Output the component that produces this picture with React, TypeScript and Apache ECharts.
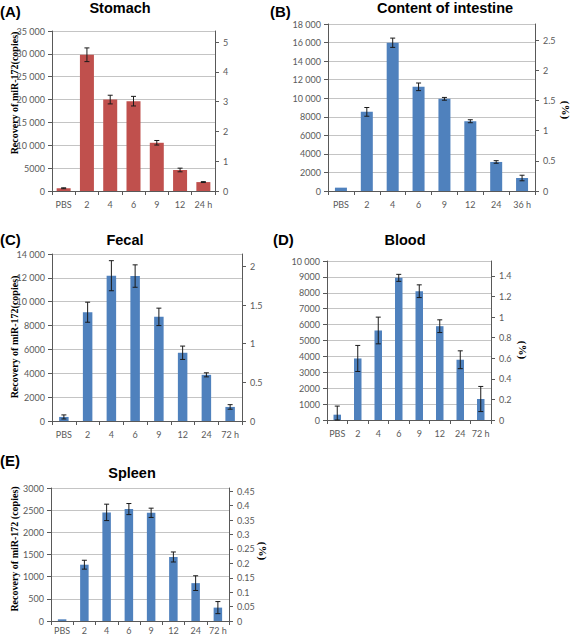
import React, { useEffect, useRef } from "react";
import * as echarts from "echarts";

// ---------- data ----------
const categoriesA = ["PBS", "2", "4", "6", "9", "12", "24 h"];
const valuesA = [600, 29800, 20000, 19650, 10550, 4600, 1950];
const errorsA = [100, 1500, 950, 1050, 500, 400, 100];

const categoriesB = ["PBS", "2", "4", "6", "9", "12", "24", "36 h"];
const valuesB = [360, 8530, 15980, 11230, 9935, 7520, 3130, 1400];
const errorsB = [0, 470, 500, 410, 150, 160, 140, 300];

const categoriesC = ["PBS", "2", "4", "6", "9", "12", "24", "72 h"];
const valuesC = [340, 9120, 12180, 12150, 8730, 5720, 3870, 1180];
const errorsC = [170, 840, 1260, 940, 730, 560, 170, 190];

const categoriesD = ["PBS", "2", "4", "6", "9", "12", "24", "72 h"];
const valuesD = [335, 3870, 5630, 8940, 8100, 5900, 3790, 1320];
const errorsD = [540, 820, 840, 220, 400, 400, 560, 790];

const categoriesE = ["PBS", "2", "4", "6", "9", "12", "24", "72 h"];
const valuesE = [38, 1270, 2450, 2525, 2440, 1444, 854, 302];
const errorsE = [0, 100, 185, 125, 105, 113, 166, 136];

// left axis (copies) ranges
const leftMax = [35000, 18000, 14000, 10000, 3000];
const leftInterval = [5000, 2000, 2000, 1000, 500];
// right axis (%) ranges
const rightMax = [5.37, 2.765, 2.16, 1.545, 0.4616];
const rightInterval = [1, 0.5, 0.5, 0.2, 0.05];

const titles = ["Stomach", "Content of intestine", "Fecal", "Blood", "Spleen"];
const letters = ["(A)", "(B)", "(C)", "(D)", "(E)"];

// ---------- styling / layout ----------
const RED = "#C0504D";
const BLUE = "#4F81BD";
const AXIS = "#595959";
const GRIDLINE = "#c4c4c4";
const LABEL = "#5a5a5a";
const LABEL_FONT = "Lato";

const grids = [
  { left: 52, top: 31, width: 163, height: 160 },
  { left: 328, top: 24, width: 207, height: 167 },
  { left: 52, top: 254, width: 190, height: 167 },
  { left: 327, top: 261, width: 164, height: 159 },
  { left: 51, top: 488, width: 178, height: 133 },
];
const barWidths = [14, 12, 9.5, 7.5, 8.5];
const xLabelMargins = [9, 9, 9, 9, 5];
const colors = [RED, BLUE, BLUE, BLUE, BLUE];

const panels = [
  { cats: categoriesA, vals: valuesA, errs: errorsA },
  { cats: categoriesB, vals: valuesB, errs: errorsB },
  { cats: categoriesC, vals: valuesC, errs: errorsC },
  { cats: categoriesD, vals: valuesD, errs: errorsD },
  { cats: categoriesE, vals: valuesE, errs: errorsE },
];

function fmtLeft(v: number): string {
  if (v >= 10000) {
    const s = String(Math.round(v));
    return s.slice(0, s.length - 3) + " " + s.slice(s.length - 3);
  }
  return String(Math.round(v));
}

function buildOption() {
  const xAxis: any[] = [];
  const yAxis: any[] = [];
  const series: any[] = [];
  const grid: any[] = [];
  const graphic: any[] = [];

  panels.forEach((p, i) => {
    grid.push({ ...grids[i], containLabel: false, outerBoundsMode: "none" });
    xAxis.push({
      type: "category",
      gridIndex: i,
      data: p.cats,
      axisLine: { show: true, lineStyle: { color: AXIS, width: 1 } },
      axisTick: { show: true, length: 4, lineStyle: { color: AXIS } },
      axisLabel: {
        color: LABEL,
        fontFamily: LABEL_FONT,
        fontSize: 9,
        margin: xLabelMargins[i],
        interval: 0,
      },
      splitLine: { show: false },
    });
    yAxis.push({
      type: "value",
      gridIndex: i,
      min: 0,
      max: leftMax[i],
      interval: leftInterval[i],
      axisLine: { show: true, lineStyle: { color: AXIS, width: 1 } },
      axisTick: { show: true, length: 4, lineStyle: { color: AXIS } },
      axisLabel: {
        color: LABEL,
        fontFamily: LABEL_FONT,
        fontSize: 9,
        margin: 7,
        formatter: (v: number) => fmtLeft(v),
      },
      splitLine: { show: true, lineStyle: { color: GRIDLINE, width: 1 } },
    });
    const ri = rightInterval[i];
    yAxis.push({
      type: "value",
      gridIndex: i,
      position: "right",
      min: 0,
      max: rightMax[i],
      interval: ri,
      axisLine: { show: true, onZero: false, lineStyle: { color: AXIS, width: 1 } },
      axisTick: { show: true, length: 4, lineStyle: { color: AXIS } },
      axisLabel: {
        color: LABEL,
        fontFamily: LABEL_FONT,
        fontSize: 9,
        margin: 8,
        showMaxLabel: false,
        formatter: (v: number) => {
          const k = v / ri;
          if (Math.abs(k - Math.round(k)) > 1e-6) return "";
          return String(+v.toFixed(4));
        },
      },
      splitLine: { show: false },
    });
    series.push({
      type: "bar",
      xAxisIndex: i,
      yAxisIndex: 2 * i,
      data: p.vals,
      barWidth: barWidths[i],
      itemStyle: { color: colors[i] },
      z: 2,
    });
    series.push({
      type: "custom",
      xAxisIndex: i,
      yAxisIndex: 2 * i,
      z: 3,
      encode: { x: 0, y: 1 },
      data: p.vals.map((v, j) => [j, v, p.errs[j]]),
      renderItem: (params: any, api: any) => {
        const x = api.value(0);
        const v = api.value(1);
        const e = api.value(2);
        if (!e) return null;
        const top = api.coord([x, v + e]);
        const bot = api.coord([x, Math.max(v - e, 0)]);
        const cx = top[0];
        const w = 2.5;
        const st = { stroke: "#1a1a1a", lineWidth: 1 };
        return {
          type: "group",
          children: [
            { type: "line", shape: { x1: cx, y1: top[1], x2: cx, y2: bot[1] }, style: st },
            { type: "line", shape: { x1: cx - w, y1: top[1], x2: cx + w, y2: top[1] }, style: st },
            { type: "line", shape: { x1: cx - w, y1: bot[1], x2: cx + w, y2: bot[1] }, style: st },
          ],
        };
      },
    });
  });

  // panel letters
  const letterPos = [
    [0, 11],
    [270, 11],
    [0, 239],
    [273, 239],
    [0, 460],
  ];
  letters.forEach((t, i) => {
    graphic.push({
      type: "text",
      x: letterPos[i][0],
      y: letterPos[i][1],
      style: {
        text: t,
        fill: "#000",
        font: "bold 15px 'Liberation Sans', Arial, sans-serif",
        align: "left",
        verticalAlign: "middle",
      },
    });
  });

  // titles
  const titlePos = [
    [120, 8],
    [445, 8],
    [125, 240],
    [405, 240],
    [132, 473],
  ];
  titles.forEach((t, i) => {
    graphic.push({
      type: "text",
      x: titlePos[i][0],
      y: titlePos[i][1],
      style: {
        text: t,
        fill: "#000",
        font: "bold 14.5px 'Liberation Sans', Arial, sans-serif",
        align: "center",
        verticalAlign: "middle",
      },
    });
  });

  // left axis titles
  const yTitles = [
    { text: "Recovery of miR-172(copies)", x: 14, y: 93 },
    { text: "Recovery of miR-172(copies)", x: 14, y: 337 },
    { text: "Recovery of miR-172 (copies)", x: 14, y: 549 },
  ];
  yTitles.forEach((t) => {
    graphic.push({
      type: "text",
      x: t.x,
      y: t.y,
      rotation: Math.PI / 2,
      style: {
        text: t.text,
        fill: "#000",
        font: "bold 10px 'Liberation Serif', 'Times New Roman', serif",
        align: "center",
        verticalAlign: "middle",
      },
    });
  });

  // right axis titles (%)
  const pctPos = [
    [566, 110],
    [523, 350],
    [263, 551],
  ];
  pctPos.forEach((p) => {
    graphic.push({
      type: "text",
      x: p[0],
      y: p[1],
      rotation: -Math.PI / 2,
      style: {
        text: "(%)",
        fill: "#000",
        font: "bold 11px 'Liberation Serif', 'Times New Roman', serif",
        align: "center",
        verticalAlign: "middle",
      },
    });
  });

  return {
    animation: false,
    backgroundColor: "#ffffff",
    grid,
    xAxis,
    yAxis,
    series,
    graphic,
  };
}

export default function App() {
  const ref = useRef<HTMLDivElement>(null);
  useEffect(() => {
    if (!ref.current) return;
    const chart = echarts.init(ref.current, undefined, { renderer: "svg" });
    chart.setOption(buildOption());
    return () => {
      chart.dispose();
    };
  }, []);
  return (
    <div
      ref={ref}
      style={{ position: "absolute", left: 0, top: 0, width: 572, height: 636 }}
    />
  );
}
